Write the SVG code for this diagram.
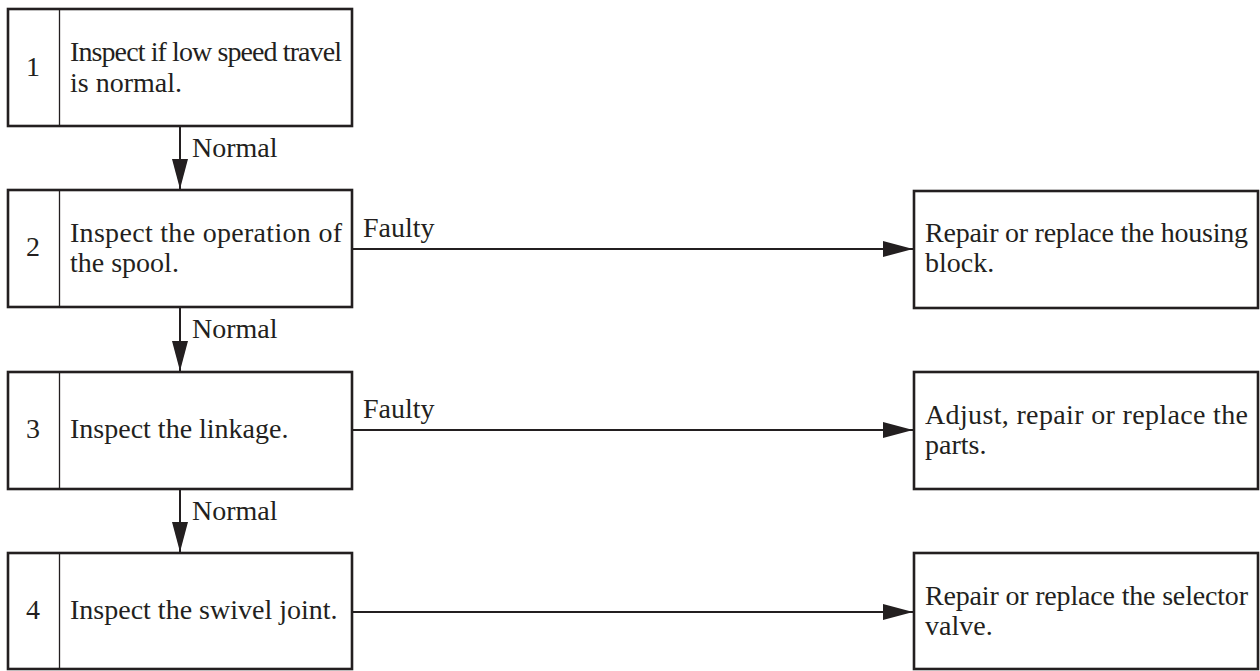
<svg xmlns="http://www.w3.org/2000/svg" width="1260" height="671" viewBox="0 0 1260 671">
<defs>
<style>
.box{fill:#fff;stroke:#231f20;stroke-width:2.6}
.div{stroke:#231f20;stroke-width:1.3}
.t{font-family:"Liberation Serif","Times New Roman",serif;font-size:28px;fill:#231f20}
.num{text-anchor:middle}
.conn{stroke:#231f20;stroke-width:2;fill:none}
.head{fill:#231f20}
</style>
<marker id="ah" markerUnits="userSpaceOnUse" markerWidth="32" markerHeight="18" refX="30" refY="8" orient="auto">
<path class="head" d="M0,0 L30,8 L0,16 Z"/>
</marker>
</defs>
<rect width="1260" height="671" fill="#fff"/>
<g id="connectors">
<line class="conn" x1="180" y1="127" x2="180" y2="189" marker-end="url(#ah)"/>
<line class="conn" x1="180" y1="308" x2="180" y2="371" marker-end="url(#ah)"/>
<line class="conn" x1="180" y1="490" x2="180" y2="552" marker-end="url(#ah)"/>
<line class="conn" x1="353" y1="249" x2="913" y2="249" marker-end="url(#ah)"/>
<line class="conn" x1="353" y1="430" x2="913" y2="430" marker-end="url(#ah)"/>
<line class="conn" x1="353" y1="612" x2="913" y2="612" marker-end="url(#ah)"/>
<text class="t" x="192" y="157">Normal</text>
<text class="t" x="192" y="338">Normal</text>
<text class="t" x="192" y="520">Normal</text>
<text class="t" x="363" y="237">Faulty</text>
<text class="t" x="363" y="418">Faulty</text>
</g>
<g id="step1">
<rect class="box" x="8" y="9" width="344" height="117"/>
<line class="div" x1="59.5" y1="9" x2="59.5" y2="126"/>
<text class="t num" x="33" y="76">1</text>
<text class="t" x="70" y="61" textLength="272">Inspect if low speed travel</text>
<text class="t" x="70" y="92">is normal.</text>
</g>
<g id="step2">
<rect class="box" x="8" y="190" width="344" height="117"/>
<line class="div" x1="59.5" y1="190" x2="59.5" y2="307"/>
<text class="t num" x="33" y="256">2</text>
<text class="t" x="70" y="242" textLength="272">Inspect the operation of</text>
<text class="t" x="70" y="272">the spool.</text>
</g>
<g id="step3">
<rect class="box" x="8" y="372" width="344" height="117"/>
<line class="div" x1="59.5" y1="372" x2="59.5" y2="489"/>
<text class="t num" x="33" y="438">3</text>
<text class="t" x="70" y="438">Inspect the linkage.</text>
</g>
<g id="step4">
<rect class="box" x="8" y="553" width="344" height="116"/>
<line class="div" x1="59.5" y1="553" x2="59.5" y2="669"/>
<text class="t num" x="33" y="619">4</text>
<text class="t" x="70" y="619">Inspect the swivel joint.</text>
</g>
<g id="action-housing">
<rect class="box" x="914" y="191" width="344" height="117"/>
<text class="t" x="925" y="242" textLength="323">Repair or replace the housing</text>
<text class="t" x="925" y="272">block.</text>
</g>
<g id="action-parts">
<rect class="box" x="914" y="372" width="344" height="117"/>
<text class="t" x="925" y="424" textLength="323">Adjust, repair or replace the</text>
<text class="t" x="925" y="454">parts.</text>
</g>
<g id="action-selector">
<rect class="box" x="914" y="553" width="344" height="116"/>
<text class="t" x="925" y="605" textLength="323">Repair or replace the selector</text>
<text class="t" x="925" y="635">valve.</text>
</g>
</svg>
